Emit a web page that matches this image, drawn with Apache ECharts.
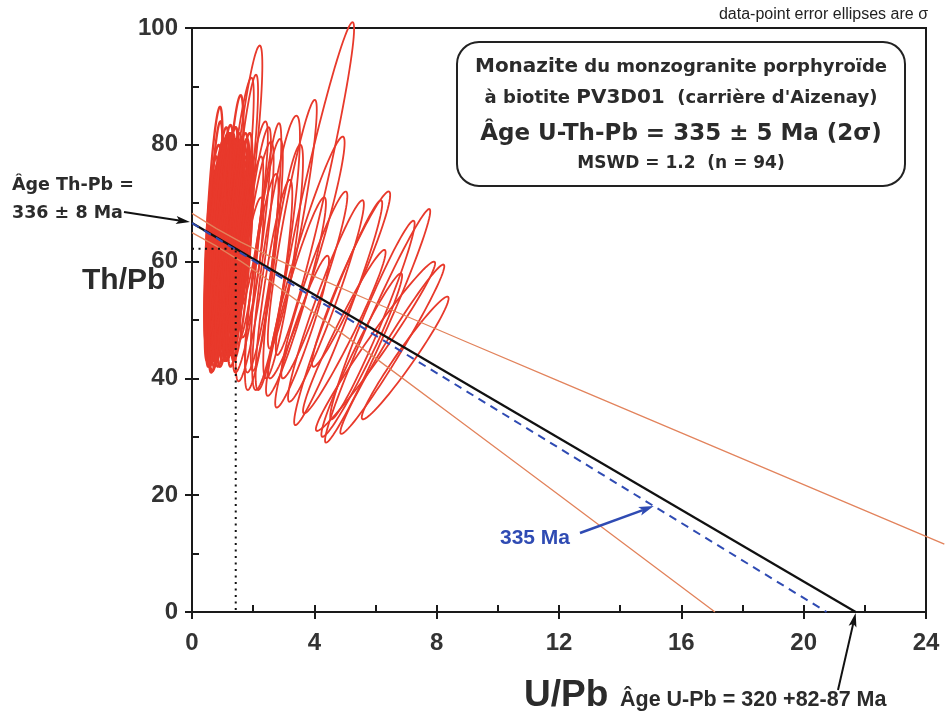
<!DOCTYPE html>
<html>
<head>
<meta charset="utf-8">
<script src="https://cdn.jsdelivr.net/npm/echarts@6/dist/echarts.min.js"></script>
<style>
  html, body { margin: 0; padding: 0; background: #ffffff; }
  #chart { width: 945px; height: 713px; }
</style>
</head>
<body>
<div id="chart"></div>
<script>
// Monazite U/Pb vs Th/Pb isochron diagram (PV3D01, Aizenay)

// Axis ranges and tick steps
const xRange = [0, 24];
const xMajorStep = 4;
const xMinorStep = 2;
const yRange = [0, 100];
const yMajorStep = 20;
const yMinorStep = 10;

// Error ellipses: [centre U/Pb, centre Th/Pb, half-extent U/Pb, half-extent Th/Pb, correlation]
const clusterEllipses = [
  [0.63, 60, 0.22, 14, 0.70], [0.68, 64, 0.25, 13, 0.70], [0.72, 58, 0.28, 15, 0.72],
  [0.76, 62, 0.30, 16, 0.75], [0.80, 66, 0.26, 12, 0.70], [0.84, 60, 0.32, 17, 0.76],
  [0.88, 64, 0.28, 14, 0.72], [0.92, 58, 0.30, 15, 0.74], [0.97, 62, 0.34, 16, 0.76],
  [1.02, 66, 0.30, 13, 0.72], [1.07, 60, 0.32, 15, 0.75], [1.12, 64, 0.36, 17, 0.78],
  [1.17, 58, 0.30, 14, 0.72], [1.22, 62, 0.32, 15, 0.74], [1.27, 66, 0.34, 14, 0.74],
  [1.32, 60, 0.30, 16, 0.76], [1.37, 63, 0.32, 14, 0.72], [1.42, 57, 0.30, 13, 0.74],
  [0.70, 68, 0.25, 12, 0.70], [0.78, 55, 0.28, 13, 0.74], [0.86, 70, 0.28, 11, 0.70],
  [0.95, 54, 0.30, 12, 0.74], [1.04, 70, 0.30, 12, 0.72], [1.14, 55, 0.30, 13, 0.75],
  [1.24, 69, 0.30, 11, 0.72], [1.34, 55, 0.28, 12, 0.74], [0.66, 56, 0.24, 13, 0.70],
  [0.74, 66, 0.26, 18, 0.72], [0.70, 66, 0.30, 20.5, 0.72], [1.02, 64, 0.33, 19.4, 0.73],
  [1.32, 67, 0.36, 21.5, 0.75], [0.92, 58, 0.35, 16.8, 0.74], [1.52, 60, 0.35, 18, 0.74],
  [0.82, 62, 0.30, 19, 0.74], [1.10, 63, 0.32, 19, 0.74], [1.20, 61, 0.30, 18, 0.72],
  [1.47, 64, 0.32, 16, 0.74], [1.56, 66, 0.32, 15, 0.74], [1.60, 62, 0.34, 16, 0.76],
  [1.50, 58, 0.30, 14, 0.74], [0.64, 63, 0.22, 15, 0.70], [0.68, 59, 0.22, 12, 0.68],
  [0.90, 67, 0.30, 16, 0.74], [1.00, 57, 0.30, 14, 0.74], [1.30, 57, 0.30, 14, 0.74],
  [1.40, 68, 0.30, 13, 0.72], [0.76, 59, 0.30, 17, 0.76], [1.17, 66, 0.34, 17, 0.76],
  [1.04, 61, 0.36, 18, 0.78], [0.87, 63, 0.34, 18, 0.76], [1.27, 63, 0.36, 19, 0.78],
  [0.79, 64, 0.30, 15, 0.72], [0.98, 65, 0.32, 17, 0.74], [1.37, 61, 0.34, 17, 0.76],
  [1.62, 58, 0.34, 15, 0.76], [1.70, 64, 0.32, 14, 0.74], [0.72, 61, 0.28, 14, 0.72],
  [1.08, 57, 0.32, 15, 0.74], [1.44, 60, 0.32, 16, 0.74], [0.96, 69, 0.30, 13, 0.72],
  [1.20, 71, 0.30, 12, 0.72], [1.53, 70, 0.30, 12, 0.72], [0.85, 56, 0.30, 15, 0.74],
  [1.65, 68, 0.32, 14, 0.74]
];
const tallEllipses = [
  [1.72, 74.5, 0.58, 22.5, 0.85], [1.50, 70.5, 0.52, 21, 0.85], [1.72, 73.5, 0.44, 18.5, 0.85],
  [2.05, 60, 0.62, 20.5, 0.85], [2.35, 59.5, 0.62, 21.5, 0.85], [2.75, 61.5, 0.78, 23.5, 0.85],
  [2.42, 62.5, 0.50, 21.2, 0.85], [2.08, 65, 0.50, 18, 0.85], [2.28, 58, 0.55, 17, 0.85],
  [2.68, 56, 0.60, 18, 0.86], [2.98, 60, 0.65, 20, 0.86], [1.88, 62, 0.45, 16, 0.84],
  [1.98, 68, 0.50, 16, 0.84], [1.84, 56, 0.50, 15, 0.84]
];
const wideEllipses = [
  [4.02, 72.5, 1.28, 28.5, 0.96], [3.74, 60.7, 1.25, 20.7, 0.95], [3.28, 66.4, 0.80, 21.3, 0.92],
  [6.07, 49, 1.72, 20, 0.98], [6.55, 45, 1.70, 14.5, 0.98], [6.97, 43.5, 1.42, 10.5, 0.97],
  [6.00, 45.5, 1.95, 14.5, 0.98], [4.78, 51.25, 1.44, 19.25, 0.97], [4.38, 53.25, 1.24, 17.25, 0.96],
  [4.98, 48, 1.35, 14, 0.97], [5.90, 50, 1.38, 17, 0.97], [5.55, 44, 1.32, 14, 0.97],
  [4.00, 56, 1.08, 16, 0.95], [3.40, 54, 0.98, 17, 0.94], [3.60, 48, 0.88, 13, 0.94],
  [5.20, 57, 1.28, 15, 0.96]
];

// Regression (black), 335 Ma reference (blue dashed), error envelope (orange)
const regressionLine = [[0, 66.6], [21.7, 0]];
const referenceLine = [[0, 66.6], [20.75, 0]];
const envelopeUpper = [
  [0, 68.25], [0.8, 65.64], [1.6, 63.34], [2.5, 61.02], [4, 57.46], [6, 52.91],
  [9, 46.19], [12, 39.52], [16, 30.66], [20, 21.8], [24, 12.95]
];
const envelopeUpperTail = [[24, 12.95], [24.6, 11.63]];
const envelopeLower = [
  [0, 64.95], [0.8, 62.64], [1.6, 60.04], [2.5, 56.84], [4, 51.18], [6, 43.47],
  [9, 31.77], [12, 20.02], [16, 4.34], [17.1, 0]
];
// Centroid projection (dotted)
const centroidProjection = [[0, 62.2], [1.43, 62.2], [1.43, 0]];
// Point on the reference line pointed at by the "335 Ma" label
const referenceLabelPoint = [15.1, 18.14];

const ellipses = clusterEllipses.concat(tallEllipses, wideEllipses);

const RED = '#e8392b';
const BLUE = '#2f4bb3';
const ORANGE = '#e2835c';
const INK = '#1a1a1a';
const TEXT = '#2b2b2b';
const AXIS_FONT = 'Liberation Sans';
const BOX_FONT = 'DejaVu Sans';

const chart = echarts.init(document.getElementById('chart'), null, { renderer: 'canvas' });

const tickStyle = { color: INK, width: 2 };

function majorAxis(range, step, labelMargin) {
  return {
    type: 'value', min: range[0], max: range[1], interval: step,
    axisLine: { show: true, onZero: false, lineStyle: { color: INK, width: 2 } },
    axisTick: { show: true, inside: false, length: 7, lineStyle: tickStyle },
    axisLabel: {
      show: true, margin: labelMargin, fontSize: 24, fontWeight: 'bold',
      fontFamily: AXIS_FONT, color: '#333333', showMinLabel: true, showMaxLabel: true
    },
    splitLine: { show: false }
  };
}
function minorAxis(range, step, position) {
  return {
    type: 'value', min: range[0], max: range[1], interval: step, position: position,
    axisLine: { show: false },
    axisTick: { show: true, inside: true, length: 7, lineStyle: tickStyle },
    axisLabel: { show: false },
    splitLine: { show: false }
  };
}

const xMajor = majorAxis(xRange, xMajorStep, 19); xMajor.position = 'bottom';
const yMajor = majorAxis(yRange, yMajorStep, 14); yMajor.position = 'left';

function lineSeries(data, color, width, type, z) {
  return {
    type: 'line', data: data, symbol: 'none', silent: true, z: z, animation: false,
    lineStyle: { color: color, width: width, type: type }
  };
}

const clusterCount = clusterEllipses.length;

const option = {
  animation: false,
  backgroundColor: '#ffffff',
  grid: {
    left: 192, top: 28, width: 734, height: 584,
    show: true, borderColor: INK, borderWidth: 2, backgroundColor: 'transparent'
  },
  xAxis: [xMajor, minorAxis(xRange, xMinorStep, 'bottom')],
  yAxis: [yMajor, minorAxis(yRange, yMinorStep, 'left')],
  series: [
    {
      type: 'custom',
      coordinateSystem: 'cartesian2d',
      data: ellipses,
      encode: { x: 0, y: 1 },
      silent: true,
      z: 1,
      clip: false,
      renderItem: function (params, api) {
        const cx = api.value(0), cy = api.value(1);
        const hx = api.value(2), hy = api.value(3), r = api.value(4);
        const s = Math.sqrt(1 - r * r);
        const pts = [];
        const n = 90;
        for (let i = 0; i < n; i++) {
          const t = (i / n) * Math.PI * 2;
          pts.push(api.coord([cx + hx * Math.cos(t), cy + hy * (r * Math.cos(t) + s * Math.sin(t))]));
        }
        return {
          type: 'polygon',
          shape: { points: pts },
          style: {
            fill: 'none', stroke: RED,
            lineWidth: params.dataIndex < clusterCount ? 2.3 : 1.8
          }
        };
      }
    },
    lineSeries(envelopeUpper, ORANGE, 1.3, 'solid', 3),
    lineSeries(envelopeLower, ORANGE, 1.3, 'solid', 3),
    lineSeries(regressionLine, '#111111', 2.2, 'solid', 4),
    lineSeries(referenceLine, BLUE, 2, [8, 6], 5),
    lineSeries(centroidProjection, '#111111', 2, [2, 4.5], 5)
  ]
};

chart.setOption(option);

const toPx = p => chart.convertToPixel({ xAxisIndex: 0, yAxisIndex: 0 }, p);

function arrow(tail, tip, color, width, headLen, headHalf) {
  const dx = tip[0] - tail[0], dy = tip[1] - tail[1];
  const L = Math.hypot(dx, dy), ux = dx / L, uy = dy / L, nx = -uy, ny = ux;
  const base = [tip[0] - ux * headLen, tip[1] - uy * headLen];
  const notch = [tip[0] - ux * headLen * 0.78, tip[1] - uy * headLen * 0.78];
  return [
    { type: 'line', z: 20, silent: true,
      shape: { x1: tail[0], y1: tail[1], x2: notch[0], y2: notch[1] },
      style: { stroke: color, lineWidth: width } },
    { type: 'polygon', z: 20, silent: true,
      shape: { points: [tip, [base[0] + nx * headHalf, base[1] + ny * headHalf], notch,
                        [base[0] - nx * headHalf, base[1] - ny * headHalf]] },
      style: { fill: color } }
  ];
}

function label(x, y, text, font, fill, align) {
  return {
    type: 'text', x: x, y: y, z: 30, silent: true,
    style: { text: text, font: font, fill: fill, align: align || 'left', verticalAlign: 'middle' }
  };
}

const interceptPx = toPx(regressionLine[0]);
const uPbPx = toPx(regressionLine[1]);
const refPx = toPx(referenceLabelPoint);
const tailA = toPx(envelopeUpperTail[0]);
const tailB = toPx(envelopeUpperTail[1]);

const boxCx = 681;
const boxRich = {
  big: { fontFamily: BOX_FONT, fontWeight: 'bold', fontSize: 20, fill: TEXT, color: TEXT },
  small: { fontFamily: BOX_FONT, fontWeight: 'bold', fontSize: 18, fill: TEXT, color: TEXT }
};

const graphics = [
  // envelope continues past the right frame
  { type: 'line', z: 3, silent: true,
    shape: { x1: tailA[0], y1: tailA[1], x2: tailB[0], y2: tailB[1] },
    style: { stroke: ORANGE, lineWidth: 1.3 } },
  label(928, 15, 'data-point error ellipses are σ', '16px "' + AXIS_FONT + '"', '#222222', 'right'),
  {
    type: 'rect', z: 25, silent: true,
    shape: { x: 457, y: 42, width: 448, height: 144, r: 22 },
    style: { fill: '#ffffff', stroke: '#222222', lineWidth: 2 }
  },
  {
    type: 'text', x: boxCx, y: 67, z: 30, silent: true,
    style: { text: '{big|Monazite}{small| du monzogranite porphyroïde}', rich: boxRich,
             align: 'center', verticalAlign: 'middle' }
  },
  {
    type: 'text', x: boxCx, y: 98, z: 30, silent: true,
    style: { text: '{small|à biotite }{big|PV3D01}{small|  (carrière d\'Aizenay)}', rich: boxRich,
             align: 'center', verticalAlign: 'middle' }
  },
  label(boxCx, 134, 'Âge U-Th-Pb = 335 ± 5 Ma (2σ)', 'bold 23px "' + BOX_FONT + '"', TEXT, 'center'),
  label(boxCx, 164, 'MSWD = 1.2  (n = 94)', 'bold 17px "' + BOX_FONT + '"', TEXT, 'center'),

  label(12, 185, 'Âge Th-Pb =', 'bold 17.5px "' + BOX_FONT + '"', TEXT, 'left'),
  label(12, 213, '336 ± 8 Ma', 'bold 17.5px "' + BOX_FONT + '"', TEXT, 'left'),
  label(82, 281, 'Th/Pb', 'bold 30px "' + AXIS_FONT + '"', '#2b2b2b', 'left'),
  label(524, 696, 'U/Pb', 'bold 37px "' + AXIS_FONT + '"', '#2b2b2b', 'left'),
  label(620, 700, 'Âge U-Pb = 320 +82-87 Ma', 'bold 21.5px "' + AXIS_FONT + '"', TEXT, 'left'),
  label(500, 538, '335 Ma', 'bold 21px "' + AXIS_FONT + '"', BLUE, 'left')
].concat(
  arrow([124, 212], [interceptPx[0] - 2, interceptPx[1] - 1], '#111111', 2, 14, 4),
  arrow([580, 533], [refPx[0], refPx[1]], BLUE, 2.5, 15, 4.5),
  arrow([838, 690], [uPbPx[0], uPbPx[1] + 1], '#111111', 2, 14, 4)
);

chart.setOption({ graphic: graphics });
</script>
</body>
</html>
